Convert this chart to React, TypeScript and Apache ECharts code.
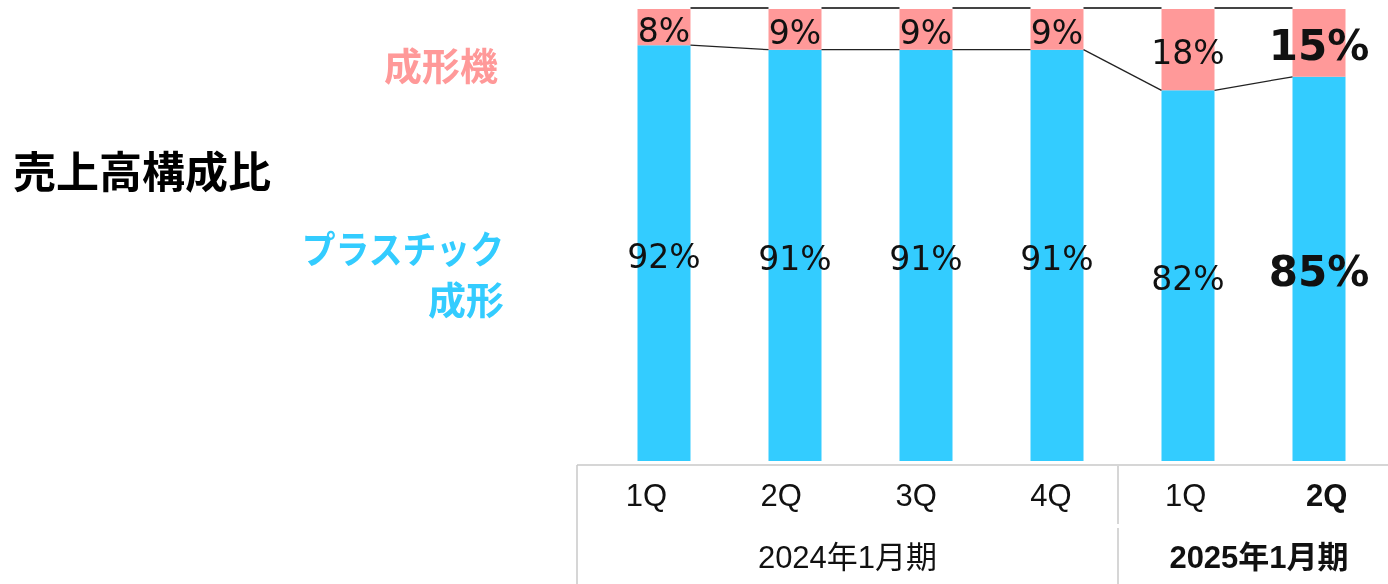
import React, { useEffect, useRef } from 'react';
import * as echarts from 'echarts';

const categories = ['1Q', '2Q', '3Q', '4Q', '1Q', '2Q'];
const plasticShare = [92, 91, 91, 91, 82, 85];
const machineShare = [8, 9, 9, 9, 18, 15];
const periodLabels = ['2024年1月期', '2025年1月期'];
const seriesNames = ['プラスチック成形', '成形機'];
const titleText = '売上高構成比';
const machineLegend = '成形機';
const plasticLegendLines = ['プラスチック', '成形'];
const highlightIndex = 5;

const BLUE = '#33CCFF';
const PINK = '#FF9999';
const BAR_W = 53;
const NUM_FONT = '"DejaVu Sans", Verdana, sans-serif';
const TABLE_FONT = '"Liberation Sans", Arial, "Noto Sans CJK JP", sans-serif';
const CJK_FONT = '"Noto Sans CJK JP", sans-serif';

export default function App() {
  const ref = useRef<HTMLDivElement>(null);

  useEffect(() => {
    const chart = echarts.init(ref.current!, null, { renderer: 'svg' });

    const mkData = (vals: number[]) =>
      vals.map((v, i) =>
        i === highlightIndex
          ? { value: v, label: { fontSize: 42, fontWeight: 'bold' } }
          : v
      );

    const connectors = plasticShare
      .slice(0, -1)
      .map((v, i) => [i, v, plasticShare[i + 1]]);

    const lineStyle = { stroke: '#c8c8c8', lineWidth: 1.5 };

    const barLabel = {
      show: true,
      position: 'inside',
      offset: [0, 3],
      formatter: (p: any) => `${p.value}%`,
      fontSize: 33,
      fontFamily: NUM_FONT,
      color: '#111',
    };

    chart.setOption({
      animation: false,
      grid: [
        { left: 598.5, top: 9, width: 786, height: 452 },
        { left: 579, top: 465, width: 815, height: 1 },
      ],
      xAxis: [
        { type: 'category', data: categories, gridIndex: 0, show: false },
        {
          type: 'category',
          data: categories,
          gridIndex: 1,
          position: 'bottom',
          axisLine: { show: false },
          axisTick: { show: false },
          splitLine: { show: false },
          axisLabel: {
            margin: 14,
            interval: 0,
            formatter: (v: string, i: number) =>
              i === highlightIndex ? `{b|${v}}` : `{n|${v}}`,
            rich: {
              n: { fontSize: 31, fontFamily: TABLE_FONT, color: '#111' },
              b: {
                fontSize: 31,
                fontFamily: TABLE_FONT,
                color: '#111',
                fontWeight: 'bold',
                padding: [0, 0, 0, 12],
              },
            },
          },
        },
      ],
      yAxis: [
        { type: 'value', min: 0, max: 100, show: false, gridIndex: 0 },
        { type: 'value', min: 0, max: 1, show: false, gridIndex: 1 },
      ],
      series: [
        {
          name: seriesNames[0],
          type: 'bar',
          stack: 'total',
          barWidth: BAR_W,
          xAxisIndex: 0,
          yAxisIndex: 0,
          itemStyle: { color: BLUE },
          label: barLabel,
          data: mkData(plasticShare),
        },
        {
          name: seriesNames[1],
          type: 'bar',
          stack: 'total',
          barWidth: BAR_W,
          xAxisIndex: 0,
          yAxisIndex: 0,
          itemStyle: { color: PINK },
          label: barLabel,
          data: mkData(machineShare),
        },
        {
          type: 'custom',
          xAxisIndex: 0,
          yAxisIndex: 0,
          clip: false,
          z: 5,
          data: connectors,
          encode: { x: 0, y: 1 },
          renderItem: (params: any, api: any) => {
            const i = api.value(0);
            const a = api.coord([i, api.value(1)]);
            const b = api.coord([i + 1, api.value(2)]);
            const ta = api.coord([i, 100]);
            const tb = api.coord([i + 1, 100]);
            const h = BAR_W / 2;
            return {
              type: 'group',
              children: [
                {
                  type: 'line',
                  shape: { x1: a[0] + h, y1: a[1], x2: b[0] - h, y2: b[1] },
                  style: { stroke: '#222', lineWidth: 1.3 },
                },
                {
                  type: 'line',
                  shape: { x1: ta[0] + h, y1: ta[1] - 1, x2: tb[0] - h, y2: tb[1] - 1 },
                  style: { stroke: '#444', lineWidth: 2 },
                },
              ],
            };
          },
        },
      ],
      graphic: [
        { type: 'line', shape: { x1: 577, y1: 465, x2: 1388, y2: 465 }, style: lineStyle },
        { type: 'line', shape: { x1: 577, y1: 465, x2: 577, y2: 584 }, style: lineStyle },
        { type: 'line', shape: { x1: 1118, y1: 466, x2: 1118, y2: 524 }, style: lineStyle },
        { type: 'line', shape: { x1: 1118, y1: 528, x2: 1118, y2: 584 }, style: lineStyle },
        {
          type: 'text',
          x: 847.5,
          y: 557,
          style: {
            text: periodLabels[0],
            fontSize: 31,
            fontFamily: TABLE_FONT,
            fill: '#111',
            textAlign: 'center',
            textVerticalAlign: 'middle',
          },
        },
        {
          type: 'text',
          x: 1259,
          y: 557,
          style: {
            text: periodLabels[1],
            fontSize: 31,
            fontWeight: 'bold',
            fontFamily: TABLE_FONT,
            fill: '#111',
            textAlign: 'center',
            textVerticalAlign: 'middle',
          },
        },
        {
          type: 'text',
          x: 13,
          y: 169,
          style: {
            text: titleText,
            fontSize: 43,
            fontWeight: 'bold',
            fontFamily: CJK_FONT,
            fill: '#000',
            textAlign: 'left',
            textVerticalAlign: 'middle',
          },
        },
        {
          type: 'text',
          x: 498,
          y: 63,
          style: {
            text: machineLegend,
            fontSize: 38,
            fontWeight: 'bold',
            fontFamily: CJK_FONT,
            fill: PINK,
            textAlign: 'right',
            textVerticalAlign: 'middle',
          },
        },
        {
          type: 'text',
          x: 504,
          y: 246,
          scaleX: 0.89,
          style: {
            text: plasticLegendLines[0],
            fontSize: 38,
            fontWeight: 'bold',
            fontFamily: CJK_FONT,
            fill: BLUE,
            textAlign: 'right',
            textVerticalAlign: 'middle',
          },
        },
        {
          type: 'text',
          x: 504,
          y: 297,
          style: {
            text: plasticLegendLines[1],
            fontSize: 38,
            fontWeight: 'bold',
            fontFamily: CJK_FONT,
            fill: BLUE,
            textAlign: 'right',
            textVerticalAlign: 'middle',
          },
        },
      ],
    });

    return () => chart.dispose();
  }, []);

  return (
    <div
      ref={ref}
      style={{ position: 'fixed', left: 0, top: 0, width: 1388, height: 584 }}
    />
  );
}
